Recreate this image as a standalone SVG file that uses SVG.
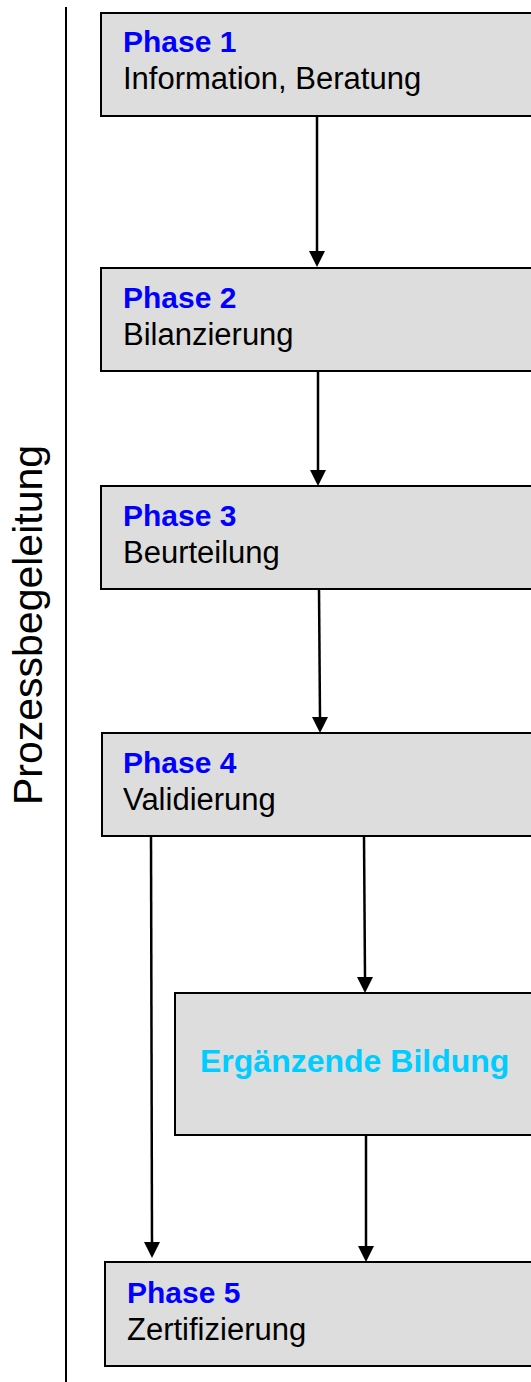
<svg xmlns="http://www.w3.org/2000/svg" width="531" height="1382" viewBox="0 0 531 1382">
<defs>
<style>
.box{fill:#dddddd;stroke:#000;stroke-width:2}
.t{font-family:"Liberation Sans",Arial,sans-serif;font-size:31px;fill:#000}
.h{font-family:"Liberation Sans",Arial,sans-serif;font-size:30px;font-weight:bold;fill:#0000ff}
.l{stroke:#000;stroke-width:2.5;fill:none}
</style>
</defs>
<rect width="531" height="1382" fill="#fff"/>
<g id="side">
<line x1="66" y1="7" x2="66" y2="1382" stroke="#000" stroke-width="2"/>
<text class="t" style="font-size:41px" transform="translate(42,625) rotate(-90)" text-anchor="middle">Prozessbegeleitung</text>
</g>
<g id="connectors">
<line class="l" x1="317" y1="116" x2="317" y2="252"/>
<path d="M309,251 L317,267 L325,251 z"/>
<line class="l" x1="318" y1="371" x2="318" y2="471"/>
<path d="M310,470 L318,486 L326,470 z"/>
<line class="l" x1="319" y1="589" x2="320" y2="718"/>
<path d="M312,717 L320,733 L328,717 z"/>
<line class="l" x1="151" y1="836" x2="152" y2="1243"/>
<path d="M144,1242 L152,1258 L160,1242 z"/>
<line class="l" x1="364" y1="836" x2="365" y2="978"/>
<path d="M357,977 L365,993 L373,977 z"/>
<line class="l" x1="366" y1="1135" x2="366" y2="1247"/>
<path d="M358,1246 L366,1262 L374,1246 z"/>
</g>
<g id="phase1">
<rect class="box" x="101" y="13" width="440" height="103"/>
<text class="h" x="123" y="52">Phase 1</text>
<text class="t" x="123" y="89">Information, Beratung</text>
</g>
<g id="phase2">
<rect class="box" x="101" y="268" width="440" height="103"/>
<text class="h" x="123" y="308">Phase 2</text>
<text class="t" x="123" y="345">Bilanzierung</text>
</g>
<g id="phase3">
<rect class="box" x="101" y="486" width="440" height="103"/>
<text class="h" x="123" y="526">Phase 3</text>
<text class="t" x="123" y="563">Beurteilung</text>
</g>
<g id="phase4">
<rect class="box" x="102" y="733" width="440" height="103"/>
<text class="h" x="123" y="773">Phase 4</text>
<text class="t" x="123" y="810">Validierung</text>
</g>
<g id="bildung">
<rect class="box" x="175" y="993" width="370" height="142"/>
<text class="h" style="fill:#00ccff;font-size:32px" x="200" y="1072">Ergänzende Bildung</text>
</g>
<g id="phase5">
<rect class="box" x="105" y="1262" width="440" height="104"/>
<text class="h" x="127" y="1303">Phase 5</text>
<text class="t" x="127" y="1340">Zertifizierung</text>
</g>
</svg>
